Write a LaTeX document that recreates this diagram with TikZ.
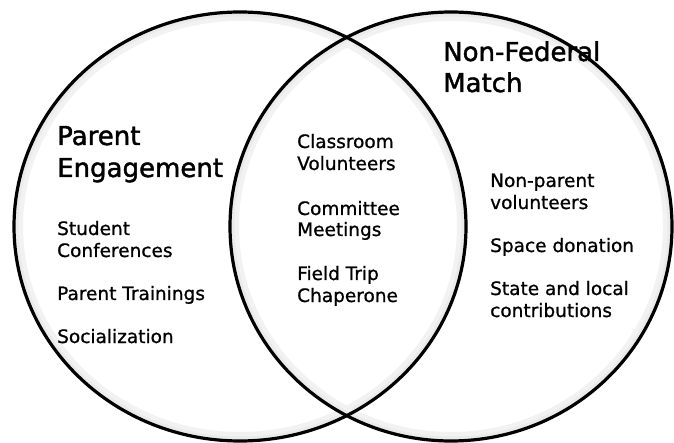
\documentclass[tikz,border=0pt]{standalone}
\usepackage{fontspec}
\setmainfont{DejaVu Sans}
\newfontfamily\chalkbody{DejaVu Sans}[FakeBold=0.9]
\newfontfamily\chalktitle{DejaVu Sans}[FakeBold=1.6]
\begin{document}
\begin{tikzpicture}[x=1pt,y=-1pt,
  ring/.style={line width=3.2pt, black},
  glowout/.style={line width=18pt, black!5},
  glowin/.style={line width=9pt, black!8},
  title/.style={anchor=base west, inner sep=0pt, font=\chalktitle\fontsize{26}{30}\selectfont},
  item/.style={anchor=base west, inner sep=0pt, font=\chalkbody\fontsize{18.5}{22}\selectfont}]
\useasboundingbox (0,0) rectangle (674,443);
\coordinate (lc) at (240,226.5);
\coordinate (rc) at (451,226.5);
% soft inner shadows
\begin{scope}
  \clip (lc) ellipse [x radius=226pt, y radius=214.5pt];
  \draw[glowout] (lc) ellipse [x radius=226pt, y radius=214.5pt];
  \draw[glowin] (lc) ellipse [x radius=226pt, y radius=214.5pt];
\end{scope}
\begin{scope}
  \clip (rc) ellipse [x radius=221pt, y radius=214.5pt];
  \draw[glowout] (rc) ellipse [x radius=221pt, y radius=214.5pt];
  \draw[glowin] (rc) ellipse [x radius=221pt, y radius=214.5pt];
\end{scope}
% rings
\draw[ring] (lc) ellipse [x radius=226pt, y radius=214.5pt];
\draw[ring] (rc) ellipse [x radius=221pt, y radius=214.5pt];
% left set
\node[title] (pe1) at (57,145) {Parent};
\node[title] (pe2) at (57,177) {Engagement};
\node[item] (l1a) at (57,235) {Student};
\node[item] (l1b) at (57,257) {Conferences};
\node[item] (l2) at (57,300) {Parent Trainings};
\node[item] (l3) at (57,343) {Socialization};
% middle
\node[item] (m1a) at (297,148) {Classroom};
\node[item] (m1b) at (297,170) {Volunteers};
\node[item] (m2a) at (297,215) {Committee};
\node[item] (m2b) at (297,236) {Meetings};
\node[item] (m3a) at (297,280) {Field Trip};
\node[item] (m3b) at (297,302) {Chaperone};
% right set
\node[title] (nf1) at (443,61) {Non-Federal};
\node[title] (nf2) at (443,92) {Match};
\node[item] (r1a) at (490,187) {Non-parent};
\node[item] (r1b) at (490,209) {volunteers};
\node[item] (r2) at (490,252) {Space donation};
\node[item] (r3a) at (490,295) {State and local};
\node[item] (r3b) at (490,317) {contributions};
\end{tikzpicture}
\end{document}
